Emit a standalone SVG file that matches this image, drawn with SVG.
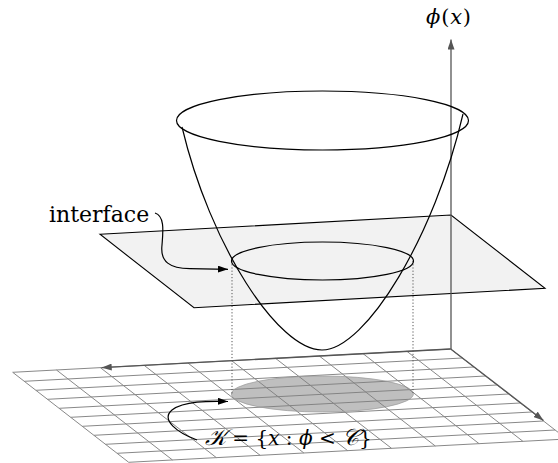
<svg xmlns="http://www.w3.org/2000/svg" width="558" height="463" viewBox="0 0 558 463">
<style>
.grid{stroke:#888;stroke-width:1;fill:none}
.axis{stroke:#555;stroke-width:1.3;fill:none}
.ink{stroke:#000;stroke-width:1.2;fill:none}
.dot{stroke:#555;stroke-width:1;stroke-dasharray:1.2 2;fill:none}
.lbl{font-family:"DejaVu Serif","Liberation Serif",serif;fill:#000}
.it{font-style:italic}
.scr{font-family:"DejaVu Serif","DejaVu Sans","Noto Sans",serif;font-style:italic;font-size:23px}
</style>
<defs>
<marker id="ga" markerWidth="10" markerHeight="7" refX="10" refY="3.5" orient="auto" markerUnits="userSpaceOnUse"><path d="M0,0 L10,3.5 L0,7 z" fill="#555"/></marker>
<marker id="ba" markerWidth="10" markerHeight="7" refX="10" refY="3.5" orient="auto" markerUnits="userSpaceOnUse"><path d="M0,0 L10,3.5 L0,7 z" fill="#000"/></marker>
</defs>
<rect width="558" height="463" fill="#fff"/>
<g id="ground-grid">
<path class="grid" d="M12.7,372.3L450.7,349M24.3,381.3L462.3,358M35.9,390.3L473.9,367M47.5,399.3L485.5,376M59.1,408.3L497.1,385M70.7,417.3L508.7,394M82.3,426.3L520.3,403M93.9,435.3L531.9,412M105.5,444.3L543.5,421M117.1,453.3L555.1,430M128.7,462.3L566.7,439M12.7,372.3L128.7,462.3M56.5,370L172.5,460M100.3,367.6L216.3,457.6M144.1,365.3L260.1,455.3M187.9,363L303.9,453M231.7,360.7L347.7,450.7M275.5,358.3L391.5,448.3M319.3,356L435.3,446M363.1,353.7L479.1,443.7M406.9,351.3L522.9,441.3M450.7,349L566.7,439"/>
</g>
<g id="set-K">
<ellipse cx="322.4" cy="394" rx="91" ry="18" fill="#808080" fill-opacity="0.5" stroke="#999" stroke-opacity="0.7"/>
</g>
<g id="axes-ground">
<path class="axis" d="M450.7,349L101.7,367.6" marker-end="url(#ga)"/>
<path class="axis" d="M450.7,349L543.5,420.5" marker-end="url(#ga)"/>
</g>
<g id="interface-plane">
<path d="M100,234.3L451,215L545,288.3L194,307.7Z" fill="#f2f2f2" stroke="#000" stroke-width="1.1"/>
</g>
<g id="projections">
<path class="dot" d="M232,261V394M413,261V393"/>
</g>
<g id="phi-axis">
<path class="axis" d="M451,349V39.5" marker-end="url(#ga)"/>
<text class="lbl" x="426" y="24" font-size="21" letter-spacing="0.8"><tspan class="it">ϕ</tspan>(<tspan class="it">x</tspan>)</text>
</g>
<g id="bowl">
<ellipse class="ink" cx="322.5" cy="120.5" rx="146" ry="29.5"/>
<path class="ink" d="M182,127C210,245 278,350 322,350C366,350 435,235 463,114"/>
<ellipse class="ink" cx="322.5" cy="261" rx="91" ry="19"/>
</g>
<g id="connectors">
<path class="ink" d="M155,213C165,216 163,232 162,245C160,262 170,268.5 190,268.7L228,269.3" marker-end="url(#ba)"/>
<path class="ink" d="M197,440C178,433 160,420 172,410C184,401 208,401 228,401.5" marker-end="url(#ba)"/>
</g>
<g id="labels">
<text class="lbl" x="49" y="222" font-size="22">interface</text>
<text class="lbl" x="205" y="445" font-size="20"><tspan class="scr">𝒦</tspan> = {<tspan class="it">x</tspan> : <tspan class="it">ϕ</tspan> &lt; <tspan class="scr">𝒞</tspan>}</text>
</g>
</svg>
